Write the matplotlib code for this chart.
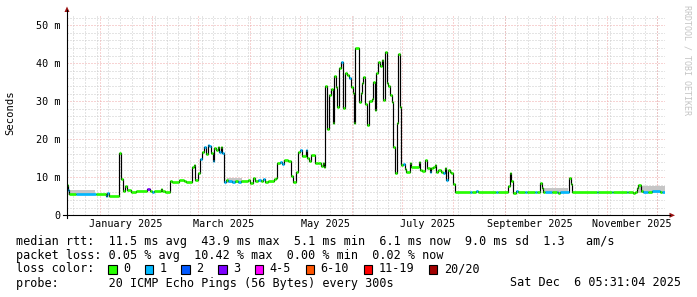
import numpy as np
import matplotlib
matplotlib.use('Agg')
import matplotlib.pyplot as plt
import matplotlib.dates as mdates
from matplotlib.patches import Rectangle, Polygon
from matplotlib.lines import Line2D

plt.rcParams['font.family'] = ['DejaVu Sans Mono']

W, H = 697, 297

# time range of the graph
ORIGIN = np.datetime64('2025-01-01T00:00')
T_START = np.datetime64('2024-12-12T05:31')
T_END = np.datetime64('2025-12-06T05:31')

# median rtt as steps: start day (days since 2025-01-01), value in ms, loss class
step_day = [-19.8, -19.2, -18.6, -14.6, -2.6, 3.4, 4.4, 5.4, 11.4, 12.4, 13.6, 15.2, 16.4, 18.4,
            21.4, 28.4, 29.8, 31.4, 32.4, 36.4, 37.4, 39.0, 42.0, 43.4, 47.4, 50.4, 51.4, 55.4,
            56.6, 57.2, 58.6, 60.0, 61.0, 62.6, 63.4, 64.6, 65.4, 66.6, 68.0, 68.6, 69.4, 70.6,
            71.6, 72.6, 73.4, 74.2, 74.6, 75.8, 77.0, 79.0, 81.0, 83.0, 84.6, 88.6, 90.2, 91.8,
            93.0, 95.0, 96.6, 98.0, 99.0, 100.6, 104.6, 105.6, 106.4, 108.0, 109.0, 110.6, 113.0,
            114.6, 116.0, 117.4, 118.6, 120.0, 121.0, 123.6, 124.4, 125.6, 126.4, 129.0, 130.6,
            132.4, 133.6, 134.4, 135.2, 136.4, 137.6, 138.4, 139.6, 140.4, 141.6, 142.4, 143.6,
            144.4, 145.6, 147.0, 148.4, 149.6, 150.4, 151.6, 152.4, 153.2, 155.2, 156.4, 157.2,
            158.0, 159.2, 160.4, 161.6, 163.0, 163.6, 164.8, 165.6, 166.8, 168.0, 169.0, 170.0,
            171.0, 172.0, 173.0, 174.0, 175.0, 176.0, 177.0, 178.0, 178.8, 180.0, 180.6, 181.8,
            182.8, 183.8, 185.8, 186.8, 191.2, 192.0, 193.2, 195.2, 196.4, 197.8, 198.8, 199.8,
            200.8, 201.8, 202.8, 204.4, 205.8, 206.8, 207.8, 208.8, 209.8, 210.8, 211.8, 212.8,
            221.8, 223.0, 225.8, 227.0, 237.8, 239.0, 244.8, 245.8, 246.8, 247.8, 249.8, 250.8,
            255.0, 256.0, 261.0, 262.0, 264.0, 265.0, 266.0, 267.0, 271.0, 274.0, 275.0, 276.0,
            281.4, 282.6, 283.4, 298.0, 299.0, 307.0, 308.0, 316.0, 317.0, 320.0, 321.0, 322.0,
            323.0, 324.6, 326.0, 329.0, 331.0, 336.0, 337.0]
median_ms = [7.9, 6.6, 5.5, 5.5, 5.6, 5.1, 5.8, 5.2, 16.5, 9.5, 6.5, 7.7, 6.7, 6.1,
             6.4, 7.0, 6.4, 6.1, 6.5, 6.8, 6.5, 6.1, 9.1, 8.8, 9.3, 9.0, 8.8, 12.6,
             13.3, 9.3, 11.2, 14.9, 16.7, 18.0, 16.1, 18.6, 18.2, 16.3, 14.4, 17.6, 17.3, 18.0,
             16.7, 18.0, 16.5, 14.6, 8.7, 9.2, 8.9, 8.7, 8.9, 8.7, 9.0, 9.3, 8.6, 9.9,
             9.0, 9.4, 9.0, 9.6, 8.8, 9.1, 9.6, 9.9, 13.7, 13.9, 13.4, 14.6, 14.2,
             10.3, 8.8, 11.5, 16.7, 17.3, 15.6, 17.2, 15.0, 14.4, 15.9, 13.7, 13.8,
             13.0, 13.8, 12.7, 34.1, 22.6, 31.7, 33.2, 24.2, 36.7, 33.8, 28.6, 38.7,
             40.4, 28.2, 37.4, 36.9, 36.1, 33.8, 32.1, 24.2, 43.9, 29.9, 32.1, 34.7,
             36.5, 29.3, 23.8, 30.2, 30.5, 35.2, 27.7, 37.5, 40.4, 39.3, 40.9, 30.3,
             43.0, 34.7, 34.0, 31.7, 29.9, 18.1, 11.2, 24.4, 42.4, 28.6, 13.2, 13.5,
             12.1, 11.4, 13.7, 12.8, 14.0, 11.9, 11.7, 14.6, 12.4, 11.5, 12.4, 12.8,
             13.2, 11.5, 11.9, 11.5, 11.1, 12.4, 9.3, 11.9, 11.5, 11.1, 8.2, 6.2,
             6.2, 6.2, 6.4, 6.2, 6.2, 6.2, 7.8, 11.1, 9.1, 5.9, 6.5, 6.2,
             6.2, 6.2, 6.2, 6.2, 8.4, 7.1, 6.2, 6.2, 6.2, 6.2, 5.8, 6.2,
             9.7, 8.2, 6.2, 6.2, 6.2, 6.2, 6.2, 6.2, 6.2, 5.8, 6.2, 7.2,
             8.0, 6.5, 6.2, 6.2, 6.3, 6.2, 6.2]
loss_class = [0, 1, 0, 1, 0, 1, 1, 0, 0, 0, 0, 0, 0, 0,
              0, 3, 0, 1, 0, 0, 0, 0, 0, 0, 0, 0, 0, 0,
              0, 0, 0, 1, 0, 1, 0, 1, 1, 0, 1, 0, 0, 0,
              1, 0, 1, 0, 1, 0, 1, 1, 0, 1, 0, 0, 0, 0,
              0, 1, 0, 1, 0, 0, 0, 0, 0, 1, 1, 0, 0,
              0, 0, 0, 0, 1, 0, 1, 0, 0, 0, 0, 0,
              0, 0, 0, 0, 0, 0, 0, 0, 0, 0, 0, 0,
              1, 0, 0, 0, 1, 0, 0, 0, 0, 0, 0, 0,
              0, 0, 0, 0, 0, 0, 0, 0, 0, 0, 0, 0,
              0, 0, 0, 0, 0, 0, 0, 0, 0, 0, 0, 1,
              0, 0, 0, 0, 0, 0, 0, 0, 0, 1, 0, 0,
              0, 0, 0, 0, 1, 0, 1, 0, 0, 0, 0, 0,
              1, 0, 1, 0, 1, 0, 0, 0, 0, 0, 1, 0,
              1, 0, 1, 0, 0, 0, 0, 1, 0, 1, 0, 1,
              0, 0, 0, 1, 0, 1, 0, 1, 0, 0, 0, 0,
              0, 0, 1, 0, 1, 0, 1]
last_day = 339.0

# smoke (spread of the pings) spans
smoke_start = [-19.0, 3.0, 76.0, 265.5, 322.5]
smoke_end = [-3.0, 6.0, 85.0, 281.0, 339.0]
smoke_lo = [5.4, 5.0, 8.6, 5.9, 5.9]
smoke_hi = [6.6, 5.9, 9.8, 7.1, 7.7]

loss_labels = ['0', '1', '2', '3', '4-5', '6-10', '11-19', '20/20']
loss_colors = ['#26ff00', '#00b8ff', '#0059ff', '#7e00ff', '#ff00ff', '#ff5500', '#ff0000', '#a10000']

y_ticks = [0, 10, 20, 30, 40, 50]
y_labels = ['0', '10 m', '20 m', '30 m', '40 m', '50 m']
x_labels = ['January 2025', 'March 2025', 'May 2025', 'July 2025', 'September 2025', 'November 2025']
x_label_dates = ['2025-01-16T12:00', '2025-03-16T00:00', '2025-05-16T12:00',
                 '2025-07-16T12:00', '2025-09-16T00:00', '2025-11-16T00:00']

legend_lines = [
    'median rtt:  11.5 ms avg  43.9 ms max  5.1 ms min  6.1 ms now  9.0 ms sd  1.3   am/s',
    'packet loss: 0.05 % avg  10.42 % max  0.00 % min  0.02 % now',
    'loss color:',
    'probe:       20 ICMP Echo Pings (56 Bytes) every 300s',
]
stamp = 'Sat Dec  6 05:31:04 2025'


def to_num(days):
    t = ORIGIN + (np.asarray(days) * 1440).round().astype('timedelta64[m]')
    return mdates.date2num(t)


def fx(x):
    return x / W


def fy(y):
    return 1 - y / H


fig = plt.figure(figsize=(W / 100, H / 100), dpi=100, facecolor='white')
ax = fig.add_axes([fx(67), fy(215.3), fx(665.4) - fx(67), fy(15.4) - fy(215.3)])
ax.set_facecolor('white')
xmin, xmax = mdates.date2num(T_START), mdates.date2num(T_END)
ax.set_xlim(xmin, xmax)
ax.set_ylim(0, 52.6)
for s in ax.spines.values():
    s.set_visible(False)

# grid: every 2 ms / every monday (light), every 10 ms / every month (red)
minor_c, major_c = '#cacaca', '#f0a8a8'
dots = (0, (1, 2))
for v in np.arange(2, 53, 2):
    if v % 10:
        ax.axhline(v, color=minor_c, lw=0.72, ls=dots, zorder=1)
for v in y_ticks[1:]:
    ax.axhline(v, color=major_c, lw=0.72, ls=dots, zorder=1)
mondays = np.arange(np.datetime64('2024-12-16'), np.datetime64('2025-12-07'), 7)
for t in mdates.date2num(mondays):
    ax.axvline(t, color=minor_c, lw=0.72, ls=dots, zorder=1)
months = np.arange(np.datetime64('2025-01'), np.datetime64('2026-01'), 1).astype('datetime64[D]')
for t in mdates.date2num(months):
    ax.axvline(t, color=major_c, lw=0.72, ls=dots, zorder=1.5)

# smoke
for s, e, lo, hi in zip(smoke_start, smoke_end, smoke_lo, smoke_hi):
    ax.fill_between(to_num([s, e]), lo, hi, color='#c6c6c6', lw=0, zorder=2)

# median line
edges = to_num(step_day + [last_day])
ax.step(edges, median_ms + [median_ms[-1]], where='post', color='black', lw=0.85, zorder=3)
ax.hlines(median_ms, edges[:-1], edges[1:], colors=[loss_colors[c] for c in loss_class],
          lw=1.9, zorder=4)

# ticks and labels
ax.set_yticks(y_ticks)
ax.set_yticklabels(y_labels, fontsize=7.3)
ax.set_xticks(mdates.date2num(np.array(x_label_dates, dtype='datetime64[m]')))
ax.set_xticklabels(x_labels, fontsize=7.3)
ax.tick_params(axis='y', length=0, pad=5)
ax.tick_params(axis='x', length=0, pad=3)

# axes with arrows
fig.add_artist(Line2D([fx(67), fx(67)], [fy(218), fy(10)], color='black', lw=0.8))
fig.add_artist(Line2D([fx(63), fx(670)], [fy(215.3), fy(215.3)], color='black', lw=0.8))
fig.add_artist(Polygon([(fx(64.5), fy(12)), (fx(69.5), fy(12)), (fx(67), fy(6.5))],
                       closed=True, color='#9a1010', lw=0))
fig.add_artist(Polygon([(fx(669.5), fy(212.8)), (fx(669.5), fy(217.8)), (fx(675), fy(215.3))],
                       closed=True, color='#9a1010', lw=0))

fig.text(fx(10.5), fy(113), 'Seconds', rotation=90, ha='center', va='center', fontsize=7.6)
fig.text(fx(687), fy(60), 'RRDTOOL / TOBI OETIKER', rotation=270, ha='center', va='center',
         fontsize=6.0, color='#c4c4c4')

# legend block
rows = [241, 255, 269, 283]
for line, y in zip(legend_lines, rows):
    fig.text(fx(16), fy(y), line, ha='left', va='center', fontsize=8.5)
fig.text(fx(681), fy(283), stamp, ha='right', va='center', fontsize=8.5)

bx = 108.0
for lab, col in zip(loss_labels, loss_colors):
    fig.add_artist(Rectangle((fx(bx), fy(273.5)), fx(8.5), fy(264.5) - fy(273.5),
                             facecolor=col, edgecolor='black', lw=0.8))
    fig.text(fx(bx + 15), fy(269), lab, ha='left', va='center', fontsize=8.5)
    bx += (len(lab) + 4.15) * 7.12

fig.savefig('out.png', dpi=100, facecolor='white')
